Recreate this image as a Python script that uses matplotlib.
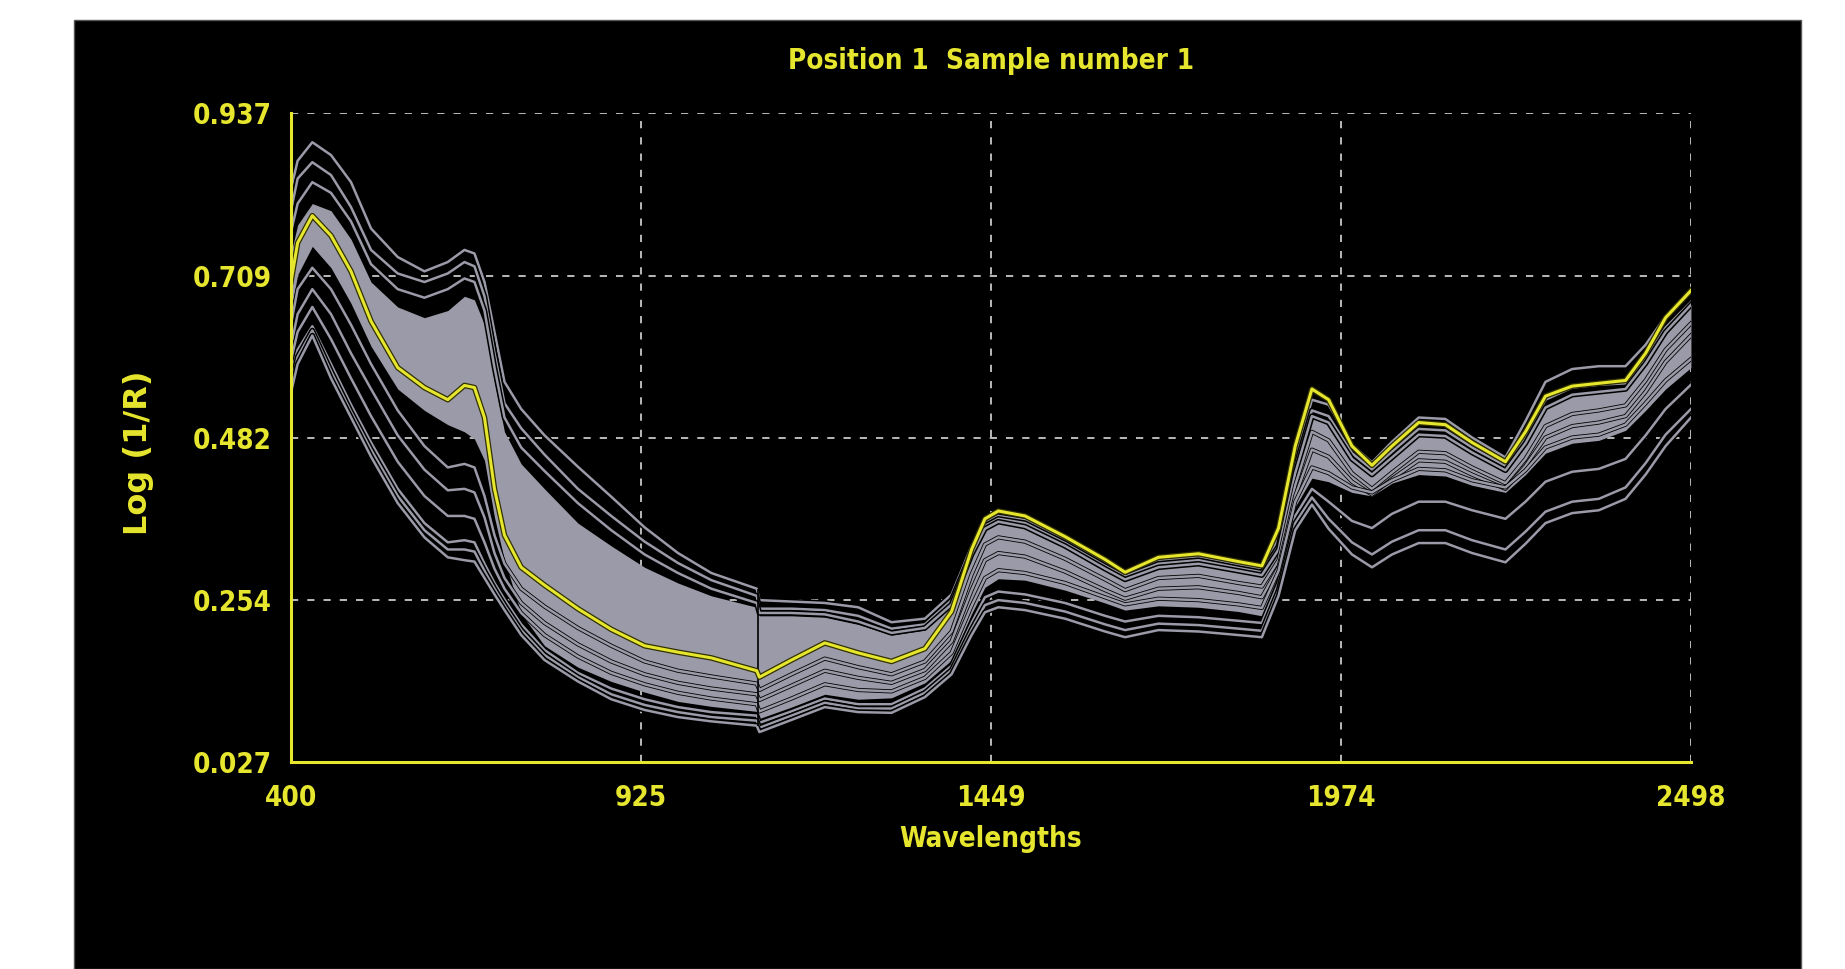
import numpy as np
import matplotlib.pyplot as plt
import matplotlib.patheffects as pe
from matplotlib.patches import Rectangle

# wavelength grid the spectra were read at (nm)
wavelengths = [400, 410, 432, 460, 490, 520, 560, 600, 635, 660,
               675, 690, 705, 720, 745, 780, 830, 880, 930, 980,
               1030, 1098, 1102, 1150, 1200, 1250, 1300, 1350, 1390, 1420,
               1440, 1460, 1500, 1560, 1620, 1650, 1700, 1760, 1820, 1855,
               1880, 1905, 1930, 1955, 1990, 2020, 2050, 2090, 2130, 2170,
               2220, 2250, 2280, 2320, 2360, 2400, 2430, 2460, 2498]

# highlighted spectrum (Position 1, sample 1)
sample1 = [0.700, 0.755, 0.793, 0.765, 0.715, 0.645, 0.580, 0.552, 0.535, 0.555,
           0.552, 0.510, 0.410, 0.345, 0.300, 0.275, 0.242, 0.213, 0.190, 0.181,
           0.173, 0.155, 0.146, 0.170, 0.194, 0.180, 0.168, 0.186, 0.238, 0.325,
           0.368, 0.379, 0.372, 0.343, 0.311, 0.293, 0.314, 0.319, 0.308, 0.302,
           0.355, 0.470, 0.550, 0.535, 0.470, 0.443, 0.470, 0.503, 0.500, 0.475,
           0.448, 0.490, 0.540, 0.554, 0.558, 0.562, 0.600, 0.650, 0.688]

# other spectra, top to bottom
spec_top = [0.830, 0.870, 0.896, 0.878, 0.840, 0.775, 0.735, 0.715, 0.728, 0.745,
            0.740, 0.700, 0.630, 0.560, 0.522, 0.485, 0.441, 0.399, 0.356, 0.320,
            0.292, 0.270, 0.254, 0.252, 0.250, 0.244, 0.223, 0.228, 0.262, 0.330,
            0.362, 0.372, 0.366, 0.338, 0.306, 0.290, 0.309, 0.315, 0.304, 0.297,
            0.340, 0.452, 0.535, 0.528, 0.472, 0.447, 0.476, 0.510, 0.508, 0.482,
            0.454, 0.505, 0.560, 0.578, 0.582, 0.582, 0.612, 0.652, 0.688]
spec_2 = [0.800, 0.845, 0.868, 0.850, 0.805, 0.745, 0.712, 0.700, 0.712, 0.728,
          0.722, 0.680, 0.600, 0.530, 0.495, 0.458, 0.410, 0.372, 0.336, 0.306,
          0.282, 0.260, 0.242, 0.242, 0.240, 0.232, 0.214, 0.220, 0.254, 0.322,
          0.358, 0.368, 0.362, 0.334, 0.302, 0.287, 0.305, 0.310, 0.299, 0.293,
          0.330, 0.440, 0.520, 0.512, 0.460, 0.437, 0.462, 0.494, 0.492, 0.468,
          0.442, 0.482, 0.535, 0.552, 0.556, 0.558, 0.592, 0.636, 0.672]
spec_3 = [0.770, 0.810, 0.840, 0.825, 0.785, 0.725, 0.690, 0.678, 0.690, 0.705,
          0.700, 0.660, 0.580, 0.510, 0.468, 0.435, 0.390, 0.352, 0.318, 0.292,
          0.270, 0.250, 0.236, 0.236, 0.234, 0.224, 0.208, 0.215, 0.248, 0.318,
          0.354, 0.364, 0.357, 0.330, 0.298, 0.283, 0.300, 0.305, 0.295, 0.289,
          0.325, 0.432, 0.512, 0.503, 0.452, 0.430, 0.454, 0.486, 0.484, 0.461,
          0.436, 0.474, 0.524, 0.542, 0.546, 0.550, 0.586, 0.630, 0.668]
spec_mid = [0.640, 0.690, 0.720, 0.690, 0.640, 0.585, 0.520, 0.470, 0.440, 0.445,
            0.440, 0.400, 0.345, 0.305, 0.270, 0.245, 0.215, 0.190, 0.168, 0.155,
            0.147, 0.137, 0.128, 0.150, 0.172, 0.160, 0.150, 0.168, 0.210, 0.290,
            0.332, 0.342, 0.336, 0.312, 0.283, 0.268, 0.285, 0.288, 0.278, 0.273,
            0.310, 0.415, 0.490, 0.478, 0.432, 0.410, 0.433, 0.462, 0.460, 0.440,
            0.418, 0.452, 0.498, 0.515, 0.520, 0.527, 0.562, 0.605, 0.642]
spec_m2 = [0.610, 0.655, 0.690, 0.655, 0.600, 0.550, 0.485, 0.437, 0.408, 0.410,
           0.405, 0.370, 0.320, 0.285, 0.250, 0.222, 0.192, 0.168, 0.150, 0.138,
           0.130, 0.122, 0.114, 0.134, 0.155, 0.145, 0.138, 0.156, 0.196, 0.268,
           0.310, 0.320, 0.315, 0.294, 0.268, 0.256, 0.270, 0.272, 0.264, 0.258,
           0.300, 0.400, 0.465, 0.455, 0.420, 0.402, 0.424, 0.450, 0.448, 0.430,
           0.410, 0.442, 0.482, 0.498, 0.503, 0.512, 0.546, 0.588, 0.625]
spec_m3 = [0.590, 0.630, 0.665, 0.620, 0.565, 0.512, 0.448, 0.400, 0.372, 0.372,
           0.368, 0.335, 0.298, 0.270, 0.236, 0.205, 0.175, 0.152, 0.136, 0.124,
           0.116, 0.108, 0.098, 0.116, 0.136, 0.128, 0.126, 0.145, 0.180, 0.246,
           0.285, 0.296, 0.292, 0.278, 0.258, 0.248, 0.256, 0.254, 0.248, 0.243,
           0.295, 0.392, 0.440, 0.432, 0.412, 0.405, 0.422, 0.438, 0.436, 0.422,
           0.412, 0.436, 0.468, 0.482, 0.486, 0.500, 0.530, 0.562, 0.592]
spec_low_a = [0.570, 0.605, 0.638, 0.585, 0.528, 0.475, 0.410, 0.362, 0.335, 0.338,
              0.335, 0.305, 0.278, 0.255, 0.220, 0.184, 0.152, 0.130, 0.115, 0.104,
              0.097, 0.092, 0.082, 0.098, 0.116, 0.108, 0.108, 0.130, 0.162, 0.222,
              0.258, 0.266, 0.262, 0.250, 0.232, 0.224, 0.232, 0.230, 0.225, 0.222,
              0.278, 0.372, 0.410, 0.392, 0.365, 0.355, 0.375, 0.392, 0.392, 0.380,
              0.368, 0.392, 0.420, 0.434, 0.438, 0.452, 0.485, 0.522, 0.556]
spec_low_b = [0.555, 0.595, 0.632, 0.575, 0.518, 0.465, 0.400, 0.352, 0.325, 0.325,
              0.322, 0.295, 0.270, 0.247, 0.212, 0.177, 0.146, 0.122, 0.107, 0.097,
              0.090, 0.085, 0.075, 0.092, 0.110, 0.102, 0.102, 0.124, 0.156, 0.213,
              0.247, 0.254, 0.250, 0.238, 0.220, 0.212, 0.221, 0.219, 0.214, 0.211,
              0.268, 0.362, 0.398, 0.368, 0.335, 0.318, 0.336, 0.352, 0.352, 0.338,
              0.325, 0.350, 0.378, 0.392, 0.396, 0.412, 0.446, 0.486, 0.522]
spec_bottom = [0.545, 0.585, 0.625, 0.565, 0.510, 0.455, 0.390, 0.342, 0.314, 0.310,
               0.308, 0.285, 0.262, 0.240, 0.205, 0.170, 0.140, 0.115, 0.100, 0.090,
               0.084, 0.078, 0.069, 0.086, 0.104, 0.097, 0.096, 0.118, 0.150, 0.205,
               0.237, 0.244, 0.240, 0.228, 0.210, 0.202, 0.212, 0.210, 0.205, 0.202,
               0.260, 0.352, 0.388, 0.354, 0.318, 0.300, 0.318, 0.334, 0.334, 0.320,
               0.307, 0.333, 0.362, 0.376, 0.380, 0.396, 0.430, 0.470, 0.510]

# edges of the dense bundle of spectra
bundle_top = [0.740, 0.780, 0.810, 0.800, 0.760, 0.700, 0.665, 0.650, 0.660, 0.680,
              0.675, 0.640, 0.560, 0.490, 0.445, 0.410, 0.362, 0.330, 0.300, 0.278,
              0.260, 0.244, 0.232, 0.232, 0.230, 0.220, 0.205, 0.212, 0.245, 0.318,
              0.358, 0.368, 0.360, 0.333, 0.300, 0.285, 0.302, 0.306, 0.296, 0.290,
              0.325, 0.430, 0.510, 0.500, 0.450, 0.428, 0.452, 0.485, 0.483, 0.460,
              0.435, 0.473, 0.522, 0.540, 0.545, 0.550, 0.585, 0.630, 0.668]
bundle_bottom = [0.660, 0.710, 0.750, 0.720, 0.670, 0.610, 0.550, 0.520, 0.500, 0.490,
                 0.480, 0.450, 0.370, 0.310, 0.235, 0.190, 0.160, 0.140, 0.125, 0.112,
                 0.105, 0.098, 0.088, 0.104, 0.122, 0.115, 0.117, 0.138, 0.170, 0.235,
                 0.272, 0.284, 0.282, 0.268, 0.250, 0.240, 0.246, 0.244, 0.238, 0.232,
                 0.290, 0.385, 0.425, 0.420, 0.405, 0.400, 0.418, 0.430, 0.428, 0.415,
                 0.405, 0.430, 0.460, 0.474, 0.478, 0.492, 0.520, 0.550, 0.580]

xticks = [400, 925, 1449, 1974, 2498]
yticks = [0.027, 0.254, 0.482, 0.709, 0.937]

YEL = '#e6e62e'
GRAY = '#9a9aa8'
tfont = dict(family='DejaVu Sans', stretch='condensed', weight='bold')

fig = plt.figure(figsize=(18.45, 9.69), dpi=100)
fig.patch.set_facecolor('white')
fig.patches.append(Rectangle((0.0401, 0.0), 0.936, 0.9794, transform=fig.transFigure,
                             facecolor='black', edgecolor='#555555', lw=1, zorder=-10))

ax = fig.add_axes([0.1577, 0.2136, 0.7588, 0.6698])
ax.set_facecolor('black')

w = np.array(wavelengths)
ax.fill_between(w, bundle_bottom, bundle_top, color=GRAY, lw=0, zorder=2)

# outer spectra get a wide black edge, the ones inside the bundle a thin one
wide = [pe.Stroke(linewidth=4, foreground='black'), pe.Normal()]
thin = [pe.Stroke(linewidth=3, foreground='black'), pe.Normal()]
for s in [spec_top, spec_2, spec_3, spec_low_a, spec_low_b, spec_bottom]:
    ax.plot(w, s, color=GRAY, lw=1.8, zorder=3, path_effects=wide)
for s in [spec_mid, spec_m2, spec_m3]:
    ax.plot(w, s, color=GRAY, lw=1.8, zorder=3, path_effects=thin)

# detector change at 1100 nm
i = wavelengths.index(1098)
ax.vlines(1100, spec_bottom[i], spec_top[i], color='black', lw=1.2, zorder=4)

ax.plot(w, sample1, color=YEL, lw=2.2, zorder=5,
        path_effects=[pe.Stroke(linewidth=4, foreground='#303000'), pe.Normal()])

ax.set_xlim(400, 2498)
ax.set_ylim(0.027, 0.937)
ax.set_xticks(xticks)
ax.set_yticks(yticks)
ax.set_xticklabels([str(x) for x in xticks], color=YEL, fontsize=20, **tfont)
ax.set_yticklabels(['%.3f' % y for y in yticks], color=YEL, fontsize=20, **tfont)
ax.tick_params(length=0, pad=14)
ax.tick_params(axis='x', pad=16)

ax.grid(True, color='#c8c8c8', lw=1.3, linestyle=(0, (4, 5)))
ax.set_axisbelow(True)
for side in ['top', 'right']:
    ax.spines[side].set_visible(False)
for side in ['left', 'bottom']:
    ax.spines[side].set_color(YEL)
    ax.spines[side].set_linewidth(2.2)
    ax.spines[side].set_zorder(6)

fig.text(0.537, 0.937, 'Position 1  Sample number 1', color=YEL, fontsize=20,
         ha='center', va='center', **tfont)
fig.text(0.537, 0.134, 'Wavelengths', color=YEL, fontsize=20,
         ha='center', va='center', **tfont)
fig.text(0.0753, 0.5325, 'Log (1/R)', color=YEL, fontsize=23, rotation=90,
         ha='center', va='center', family='DejaVu Sans', weight='bold')

fig.savefig('out.png', dpi=100, facecolor='white')
